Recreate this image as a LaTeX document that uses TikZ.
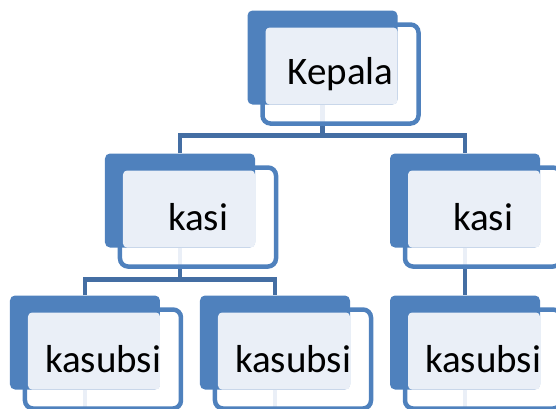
\documentclass[tikz,border=0pt]{standalone}
\usepackage{fontspec}
\setmainfont{Carlito}
\usetikzlibrary{positioning,backgrounds}
\definecolor{boxblue}{HTML}{4F81BD}
\definecolor{boxlight}{HTML}{EAEFF7}
\definecolor{linkblue}{HTML}{446EA3}

\begin{document}
\begin{tikzpicture}[x=1pt,y=1pt,node distance=143pt and 142.5pt,on grid,
  unit/.style={draw=boxblue,line width=4.5pt,rounded corners=8pt,minimum width=156pt,
    minimum height=99pt,inner sep=0pt,font=\fontsize{39}{47}\selectfont},
  backbox/.style={fill=boxblue,rounded corners=5pt,minimum width=150pt,minimum height=94pt,inner sep=0pt},
  lightbox/.style={fill=boxlight,rounded corners=4pt,minimum width=132pt,minimum height=77pt,inner sep=0pt},
  link/.style={draw=linkblue,line width=4.5pt},
  faint/.style={draw=boxlight,line width=4.5pt}]
 \useasboundingbox (-340.5,74) rectangle (215.5,-334);

 \node[unit] (k_0) {Kepala};
 \node[unit] (k_1) [below left=of k_0] {kasi};
 \node[unit] (k_2) [below right=of k_0] {kasi};
 \node[unit] (k_3) [below left=142pt and 95pt of k_1] {kasubsi};
 \node[unit] (k_4) [below right=142pt and 95pt of k_1] {kasubsi};
 \node[unit] (k_5) [below=142pt of k_2] {kasubsi};

 \begin{scope}[on background layer]
  \foreach \n in {k_0,k_1,k_2,k_3,k_4,k_5} {
   \node[backbox] (\n-b) at ([shift={(-18,16.5)}]\n.center) {};
   \node[lightbox] (\n-l) at ([shift={(-9,8)}]\n.center) {};
   \draw[faint] (\n-b.south) -- (\n.south -| \n-b);
  }
  % connectors
  \draw[link] (k_1-b.north) -- ++(0,18) coordinate (bar_1) -| (k_2-b.north);
  \draw[link] (k_0.south -| k_0-b) -- (k_0-b |- bar_1);
  \draw[link] (k_3-b.north) -- ++(0,16) coordinate (bar_2) -| (k_4-b.north);
  \draw[link] (k_1.south -| k_1-b) -- (k_1-b |- bar_2);
  \draw[link] (k_2.south -| k_2-b) -- (k_5-b.north);
 \end{scope}
\end{tikzpicture}
\end{document}
